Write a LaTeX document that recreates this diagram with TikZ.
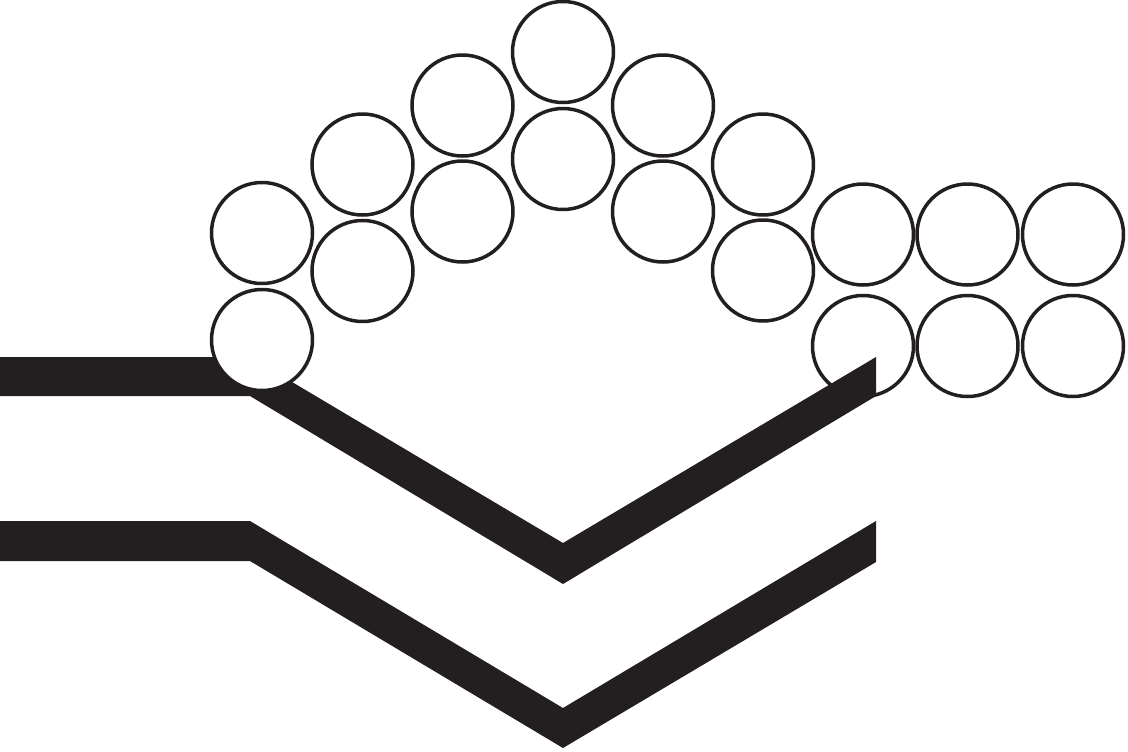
\documentclass[tikz,border=0pt]{standalone}
\usepackage{tikz}
\usepackage{xcolor}

\definecolor{ink}{HTML}{231F20}

\begin{document}
\begin{tikzpicture}[x=0.2mm,y=-0.2mm,
    ball/.style={circle,draw=ink,fill=white,line width=0.7mm,inner sep=0pt,minimum size=20.2mm},
    band/.style={fill=ink,draw=none}]
                        \useasboundingbox (0,0) rectangle (1128,751);

                        % this ball lies under the upper band
                        \node (r2b) at (863,346) [ball] {};

                        \fill [band] (0,521) -- (250,521) -- (563,708) -- (876,521) -- (876,562) -- (563,748) -- (250,561) -- (0,561) -- cycle;
                        \fill [band] (0,357) -- (250,357) -- (563,543) -- (876,357) -- (876,396) -- (563,584) -- (250,396) -- (0,396) -- cycle;

                        \node (l1a) at (262,233) [ball] {};
                        \node (l1b) at (262,340) [ball] {};
                        \node (l2a) at (362.5,164.5) [ball] {};
                        \node (l2b) at (362.5,271) [ball] {};
                        \node (l3a) at (462.5,105.5) [ball] {};
                        \node (l3b) at (462.5,211.5) [ball] {};
                        \node (topa) at (563,52) [ball] {};
                        \node (topb) at (563,159) [ball] {};
                        \node (r3a) at (663,105.5) [ball] {};
                        \node (r3b) at (663,211.5) [ball] {};
                        \node (r4a) at (763,164.5) [ball] {};
                        \node (r4b) at (763,270.5) [ball] {};
                        \node (r2a) at (863,234.5) [ball] {};
                        \node (r1a) at (967.5,234.5) [ball] {};
                        \node (r1b) at (967.5,346) [ball] {};
                        \node (r0a) at (1073,234.5) [ball] {};
                        \node (r0b) at (1073,346) [ball] {};

                    \end{tikzpicture}
\end{document}
